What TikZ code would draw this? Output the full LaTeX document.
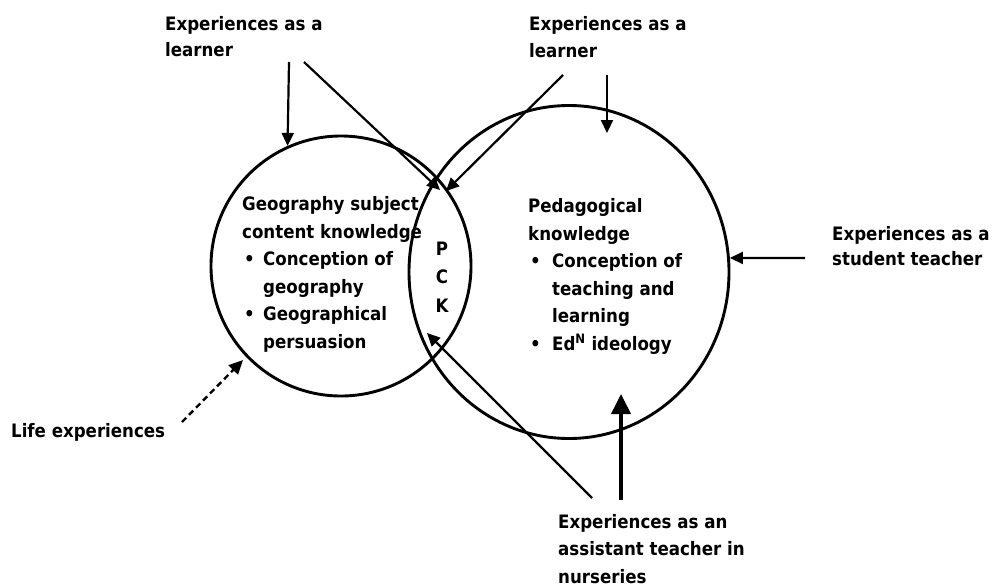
\documentclass[tikz,border=0pt]{standalone}
\usepackage{fontspec}
\setmainfont{DejaVu Sans}
\newfontfamily\heavyfont{DejaVu Sans Condensed Bold}
\usetikzlibrary{arrows.meta,shapes.geometric}
\newcommand\mybul[1]{\makebox[#1][l]{\hspace{2pt}•}}
\begin{document}
\begin{tikzpicture}[x=1pt,y=-1pt,
  txt/.style={font=\heavyfont\fontsize{18.5}{27.5}\selectfont, align=left, inner sep=0pt, anchor=base west},
  ring/.style={draw, line width=2.9pt, inner sep=0pt},
  arr/.style={line width=2.2pt, -{Triangle[length=13pt,width=12pt]}},
  bigarr/.style={line width=3.8pt, -{Triangle[length=20pt,width=19pt]}},
  dasharr/.style={line width=2.4pt, dash pattern=on 6pt off 4pt, -{Triangle[length=14pt,width=13pt]}}
]
\fill[white] (0,0) rectangle (992,587);
\useasboundingbox (0,0) rectangle (992,587);

% circles
\node[ring, circle, minimum size=260pt] (L) at (341,266) {};
\node[ring, ellipse, minimum width=320pt, minimum height=333pt] (R) at (569,272) {};

% texts (anchor = baseline of the last line)
\node[txt] (TL) at (165,56) {Experiences as a\\[-1.5pt]learner};
\node[txt] (TR) at (529,57) {Experiences as a\\[-1pt]learner};
\node[txt] (ST) at (832,265) {Experiences as a\\[-2.5pt]student teacher};
\node[txt] (LE) at (11,437) {Life experiences};
\node[txt] (AT) at (558,583) {Experiences as an\\assistant teacher in\\nurseries};
\node[txt] (GK) at (242,348) {Geography subject\\content knowledge\\\mybul{21pt}Conception of\\\hspace*{21pt}geography\\\mybul{21pt}Geographical\\\hspace*{21pt}persuasion};
\node[txt] (PK) at (528,350) {Pedagogical\\knowledge\\\mybul{24pt}Conception of\\\hspace*{24pt}teaching and\\\hspace*{24pt}learning\\\mybul{24pt}Ed\textsuperscript{N} ideology};
\node[txt, anchor=center, align=center, font=\heavyfont\fontsize{18.5}{28.5}\selectfont] (PCK) at (442,277) {P\\C\\K};

% connector end points
\coordinate (tl1) at (289,62);
\coordinate (tl2) at (304,62);
\coordinate (tr1) at (563,75);
\coordinate (tr2) at (607,75);
\coordinate (st1) at (805,258);
\coordinate (b1) at (621,500);
\coordinate (b2) at (592,498);
\coordinate (le1) at (182,422);
\coordinate (pin1) at (440,190);
\coordinate (pin2) at (446,191);
\coordinate (pin3) at (427,333);
\coordinate (tipR) at (607,133);
\coordinate (tipB) at (621,394);
\coordinate (tipLE) at (243,360);

% connectors
\draw[arr] (tl1) -- (L.114);
\draw[arr] (tl2) -- (pin1);
\draw[arr] (tr1) -- (pin2);
\draw[arr] (tr2) -- (tipR);
\draw[arr] (st1) -- (R.5);
\draw[bigarr] (b1) -- (tipB);
\draw[arr] (b2) -- (pin3);
\draw[dasharr] (le1) -- (tipLE);
\end{tikzpicture}
\end{document}
